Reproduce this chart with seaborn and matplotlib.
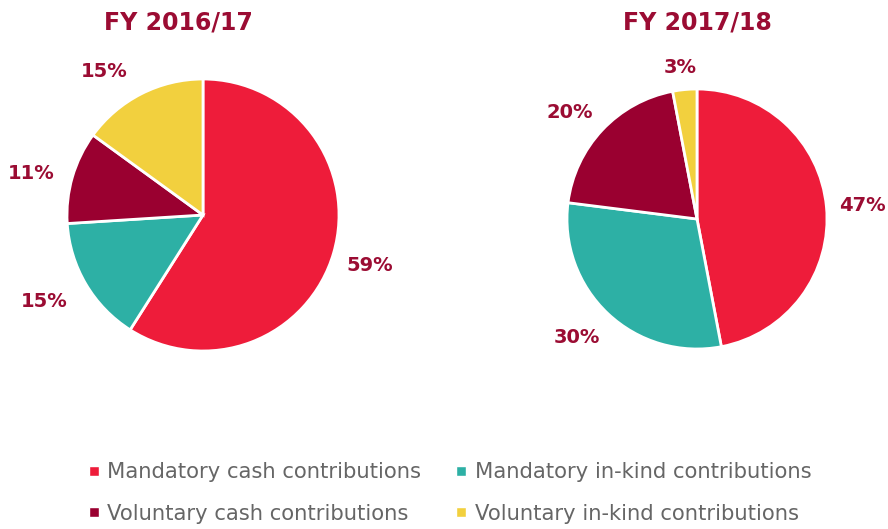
import matplotlib
matplotlib.use("Agg")
import numpy as np
import matplotlib.pyplot as plt
from matplotlib.lines import Line2D
import seaborn as sns

# categories and shares (%)
categories = ["Mandatory cash contributions", "Mandatory in-kind contributions",
              "Voluntary cash contributions", "Voluntary in-kind contributions"]
fy1617 = [59, 15, 11, 15]
fy1718 = [47, 30, 20, 3]
titles = ["FY 2016/17", "FY 2017/18"]

colors = ["#EE1C3A", "#2DB0A5", "#9A0030", "#F2D03E"]
label_color = "#9B0C33"

sns.set_theme(style="white")
plt.rcParams['font.family'] = ['DejaVu Sans']

fig = plt.figure(figsize=(8.88, 5.29), dpi=100)
W, H = 888, 529

def pie_axes(cx, cy, r):
    return fig.add_axes([(cx - r) / W, (H - cy - r) / H, 2 * r / W, 2 * r / H])

def draw_pie(ax, values, dists, shifts):
    wedges, texts = ax.pie(values, colors=colors, startangle=90, counterclock=False,
                           labels=[f"{v}%" for v in values],
                           wedgeprops=dict(edgecolor="white", linewidth=2),
                           textprops=dict(color=label_color, fontsize=14, fontweight="bold"))
    # place each label along its wedge's mid angle, with a small nudge
    for w, t, d, s in zip(wedges, texts, dists, shifts):
        ang = np.deg2rad((w.theta1 + w.theta2) / 2 + s)
        t.set_position((d * np.cos(ang), d * np.sin(ang)))
        t.set_horizontalalignment("center")
        t.set_verticalalignment("center")
    ax.set_xlim(-1, 1)
    ax.set_ylim(-1, 1)
    ax.set_aspect("equal")

ax1 = pie_axes(203, 215, 136)
draw_pie(ax1, fy1617, [1.28, 1.33, 1.30, 1.28], [-0.5, -1.9, 2.5, 7.7])
ax2 = pie_axes(697, 219, 130)
draw_pie(ax2, fy1718, [1.28, 1.30, 1.28, 1.17], [-0.6, -2.3, 3.3, 1.0])

fig.text(178 / W, 1 - 22 / H, titles[0], ha="center", va="center",
         fontsize=17, fontweight="bold", color=label_color)
fig.text(697 / W, 1 - 22 / H, titles[1], ha="center", va="center",
         fontsize=17, fontweight="bold", color=label_color)

order = [0, 2, 1, 3]
handles = [Line2D([], [], marker="s", linestyle="none", markersize=6.5,
                  markerfacecolor=colors[i], markeredgecolor="white")
           for i in order]
leg = fig.legend(handles, [categories[i] for i in order], ncol=2,
                 loc="center", bbox_to_anchor=(450 / W, 1 - 493 / H),
                 frameon=False, fontsize=15.2, labelcolor="#666666",
                 handlelength=0.5, handletextpad=0.4, labelspacing=1.0,
                 columnspacing=1.65)

fig.savefig("out.png", dpi=100)
